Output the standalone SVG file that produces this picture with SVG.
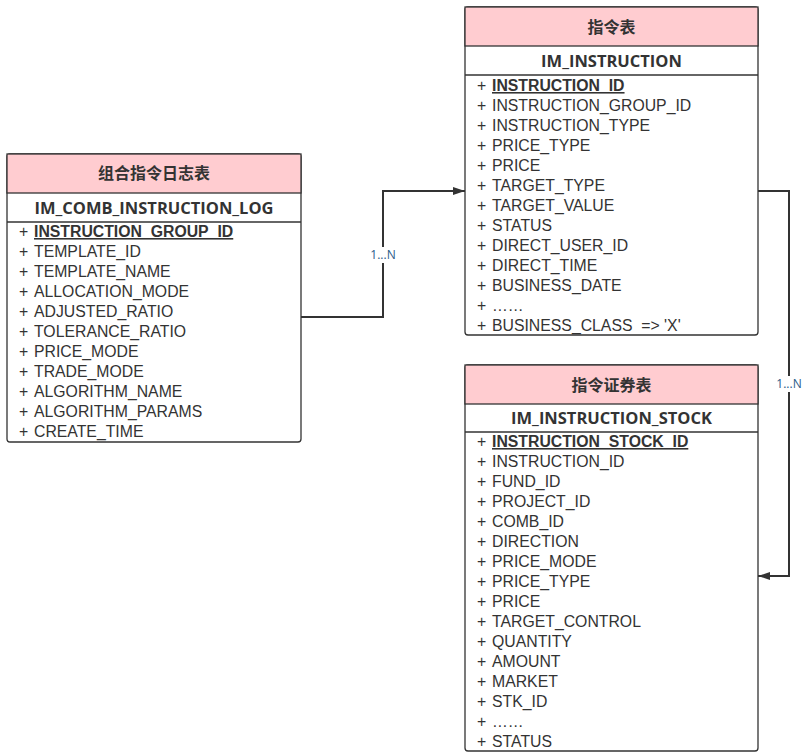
<svg xmlns="http://www.w3.org/2000/svg" width="809" height="756" viewBox="0 0 809 756">
<style>
.box{fill:#fff;stroke:#333;stroke-width:1.3}
.hdr{fill:#ffccd0;stroke:#333;stroke-width:1.3}
.sep{stroke:#333;stroke-width:1.3}
.t{font-family:"Open Sans","Noto Sans CJK SC",sans-serif;fill:#333}
.title{font-size:16px;font-weight:bold;text-anchor:middle}
.name{font-size:16.5px;font-weight:bold;text-anchor:middle}
.row{font-family:"Liberation Sans",Arial,sans-serif;font-size:15.8px}
.pk{font-weight:bold;text-decoration:underline}
.conn{fill:none;stroke:#333;stroke-width:2}
.lbl{font-family:"Open Sans",sans-serif;font-size:12px;fill:#2b5c8a;text-anchor:middle}
</style>
<defs>
<marker id="arr" viewBox="0 0 10 10" refX="10" refY="5" markerWidth="12" markerHeight="10" markerUnits="userSpaceOnUse" orient="auto" preserveAspectRatio="none">
<path d="M0,1 L10,5 L0,9 Z" fill="#333"/>
</marker>
</defs>

<g id="comb_log">
<rect class="box" x="7" y="154" width="294" height="288" rx="3"/>
<rect class="hdr" x="7" y="154" width="294" height="39"/>
<line class="sep" x1="7" y1="222" x2="301" y2="222"/>
<text class="t title" x="154" y="179">组合指令日志表</text>
<text class="t name" x="154" y="214">IM_COMB_INSTRUCTION_LOG</text>
<g class="t row">
<text y="237"><tspan x="19">+</tspan><tspan x="34" class="pk">INSTRUCTION_GROUP_ID</tspan></text>
<text y="257"><tspan x="19">+</tspan><tspan x="34">TEMPLATE_ID</tspan></text>
<text y="277"><tspan x="19">+</tspan><tspan x="34">TEMPLATE_NAME</tspan></text>
<text y="297"><tspan x="19">+</tspan><tspan x="34">ALLOCATION_MODE</tspan></text>
<text y="317"><tspan x="19">+</tspan><tspan x="34">ADJUSTED_RATIO</tspan></text>
<text y="337"><tspan x="19">+</tspan><tspan x="34">TOLERANCE_RATIO</tspan></text>
<text y="357"><tspan x="19">+</tspan><tspan x="34">PRICE_MODE</tspan></text>
<text y="377"><tspan x="19">+</tspan><tspan x="34">TRADE_MODE</tspan></text>
<text y="397"><tspan x="19">+</tspan><tspan x="34">ALGORITHM_NAME</tspan></text>
<text y="417"><tspan x="19">+</tspan><tspan x="34">ALGORITHM_PARAMS</tspan></text>
<text y="437"><tspan x="19">+</tspan><tspan x="34">CREATE_TIME</tspan></text>
</g>
</g>

<g id="instruction">
<rect class="box" x="465" y="7" width="293" height="328" rx="3"/>
<rect class="hdr" x="465" y="7" width="293" height="39"/>
<line class="sep" x1="465" y1="75" x2="758" y2="75"/>
<text class="t title" x="611.5" y="33">指令表</text>
<text class="t name" x="611.5" y="67">IM_INSTRUCTION</text>
<g class="t row">
<text y="91"><tspan x="477">+</tspan><tspan x="492" class="pk">INSTRUCTION_ID</tspan></text>
<text y="111"><tspan x="477">+</tspan><tspan x="492">INSTRUCTION_GROUP_ID</tspan></text>
<text y="131"><tspan x="477">+</tspan><tspan x="492">INSTRUCTION_TYPE</tspan></text>
<text y="151"><tspan x="477">+</tspan><tspan x="492">PRICE_TYPE</tspan></text>
<text y="171"><tspan x="477">+</tspan><tspan x="492">PRICE</tspan></text>
<text y="191"><tspan x="477">+</tspan><tspan x="492">TARGET_TYPE</tspan></text>
<text y="211"><tspan x="477">+</tspan><tspan x="492">TARGET_VALUE</tspan></text>
<text y="231"><tspan x="477">+</tspan><tspan x="492">STATUS</tspan></text>
<text y="251"><tspan x="477">+</tspan><tspan x="492">DIRECT_USER_ID</tspan></text>
<text y="271"><tspan x="477">+</tspan><tspan x="492">DIRECT_TIME</tspan></text>
<text y="291"><tspan x="477">+</tspan><tspan x="492">BUSINESS_DATE</tspan></text>
<text y="311"><tspan x="477">+</tspan><tspan x="492">……</tspan></text>
<text y="331" xml:space="preserve"><tspan x="477">+</tspan><tspan x="492">BUSINESS_CLASS  =&gt; 'X'</tspan></text>
</g>
</g>

<g id="instruction_stock">
<rect class="box" x="465" y="365" width="293" height="386" rx="3"/>
<rect class="hdr" x="465" y="365" width="293" height="39"/>
<line class="sep" x1="465" y1="432" x2="758" y2="432"/>
<text class="t title" x="611.5" y="391">指令证券表</text>
<text class="t name" x="611.5" y="424">IM_INSTRUCTION_STOCK</text>
<g class="t row">
<text y="447"><tspan x="477">+</tspan><tspan x="492" class="pk">INSTRUCTION_STOCK_ID</tspan></text>
<text y="467"><tspan x="477">+</tspan><tspan x="492">INSTRUCTION_ID</tspan></text>
<text y="487"><tspan x="477">+</tspan><tspan x="492">FUND_ID</tspan></text>
<text y="507"><tspan x="477">+</tspan><tspan x="492">PROJECT_ID</tspan></text>
<text y="527"><tspan x="477">+</tspan><tspan x="492">COMB_ID</tspan></text>
<text y="547"><tspan x="477">+</tspan><tspan x="492">DIRECTION</tspan></text>
<text y="567"><tspan x="477">+</tspan><tspan x="492">PRICE_MODE</tspan></text>
<text y="587"><tspan x="477">+</tspan><tspan x="492">PRICE_TYPE</tspan></text>
<text y="607"><tspan x="477">+</tspan><tspan x="492">PRICE</tspan></text>
<text y="627"><tspan x="477">+</tspan><tspan x="492">TARGET_CONTROL</tspan></text>
<text y="647"><tspan x="477">+</tspan><tspan x="492">QUANTITY</tspan></text>
<text y="667"><tspan x="477">+</tspan><tspan x="492">AMOUNT</tspan></text>
<text y="687"><tspan x="477">+</tspan><tspan x="492">MARKET</tspan></text>
<text y="707"><tspan x="477">+</tspan><tspan x="492">STK_ID</tspan></text>
<text y="727"><tspan x="477">+</tspan><tspan x="492">……</tspan></text>
<text y="747"><tspan x="477">+</tspan><tspan x="492">STATUS</tspan></text>
</g>
</g>

<g id="connectors">
<path class="conn" d="M301,317 H383 V191 H465" marker-end="url(#arr)"/>
<rect x="368" y="247" width="30" height="16" fill="#fff"/>
<text class="lbl" x="383" y="259">1...N</text>
<path class="conn" d="M758,191 H789 V576 H758" marker-end="url(#arr)"/>
<rect x="774" y="376" width="30" height="16" fill="#fff"/>
<text class="lbl" x="789" y="388">1...N</text>
</g>
</svg>
